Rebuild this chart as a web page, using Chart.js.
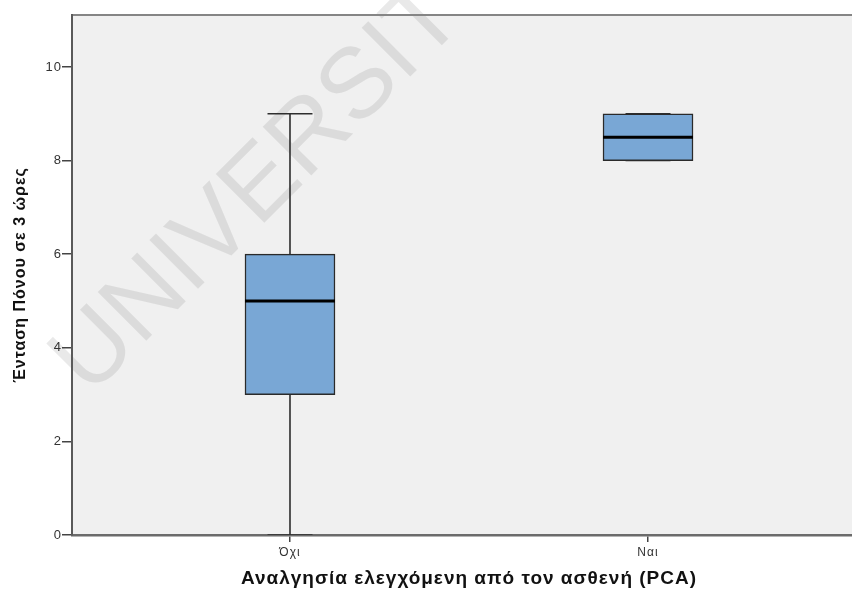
<!DOCTYPE html>
<html>
<head>
<meta charset="utf-8">
<script src="https://cdn.jsdelivr.net/npm/chart.js@4.4.1/dist/chart.umd.min.js"></script>
<style>
  html, body { margin: 0; padding: 0; background: #ffffff; overflow: hidden; }
  #wrap { width: 852px; height: 590px; position: relative; overflow: hidden; }
  #c { position: absolute; left: 0; top: 0; }
</style>
</head>
<body>
<div id="wrap"><canvas id="c" width="866" height="590"></canvas></div>
<script>
// ---- data ----
const categories = ['Όχι', 'Ναι'];
const categoryPos = [1, 2];
const minValues = [0, 8];
const q1Values = [3, 8];
const medianValues = [5, 8.5];
const q3Values = [6, 9];
const maxValues = [9, 9];
const yTicks = [0, 2, 4, 6, 8, 10];
const yTitle = 'Ένταση Πόνου σε 3 ώρες';
const xTitle = 'Αναλγησία ελεγχόμενη από τον ασθενή (PCA)';
const watermarkText = 'UNIVERSITY';

// ---- styling constants ----
const boxHalf = 0.1257;   // half box width in x units
const capHalf = 0.0628;   // half whisker cap width in x units
const FONT = "Arial, 'Liberation Sans', sans-serif";

const boxData = categoryPos.map((x, i) => ({ x: x, y: [q1Values[i], q3Values[i]] }));
const medianData = [];
const whiskerData = [];
categoryPos.forEach((x, i) => {
  medianData.push({ x: x - boxHalf, y: medianValues[i] }, { x: x + boxHalf, y: medianValues[i] }, { x: x, y: null });
  whiskerData.push(
    { x: x, y: q3Values[i] }, { x: x, y: maxValues[i] }, { x: x, y: null },
    { x: x - capHalf, y: maxValues[i] }, { x: x + capHalf, y: maxValues[i] }, { x: x, y: null },
    { x: x, y: q1Values[i] }, { x: x, y: minValues[i] }, { x: x, y: null },
    { x: x - capHalf, y: minValues[i] }, { x: x + capHalf, y: minValues[i] }, { x: x, y: null }
  );
});

const framePlugin = {
  id: 'frame',
  beforeDraw(chart) {
    const { ctx, chartArea: a } = chart;
    ctx.save();
    ctx.fillStyle = '#f0f0f0';
    ctx.fillRect(a.left, a.top, a.right - a.left, a.bottom - a.top);
    // watermark
    ctx.translate(64, 372);
    ctx.rotate(-45 * Math.PI / 180);
    ctx.font = "100px 'Liberation Sans', Arial, sans-serif";
    ctx.fillStyle = 'rgba(0,0,0,0.085)';
    ctx.textBaseline = 'alphabetic';
    ctx.textAlign = 'left';
    ctx.fillText(watermarkText, 0, 36);
    ctx.restore();
    // top frame line
    ctx.save();
    ctx.strokeStyle = '#858585';
    ctx.lineWidth = 2;
    ctx.beginPath();
    ctx.moveTo(a.left, a.top);
    ctx.lineTo(a.right, a.top);
    ctx.stroke();
    ctx.restore();
    // slightly widened lettering for all axis text (the reference text looks stretched)
    ctx.letterSpacing = '1px';
  }
};

new Chart(document.getElementById('c'), {
  type: 'bar',
  data: {
    datasets: [
      {
        type: 'line',
        label: 'median',
        data: medianData,
        borderColor: '#000000',
        borderWidth: 3,
        pointRadius: 0,
        spanGaps: false,
        order: 0
      },
      {
        type: 'bar',
        label: 'box',
        data: boxData,
        backgroundColor: '#79a7d5',
        borderColor: '#2a2a2a',
        borderWidth: 1.5,
        borderSkipped: false,
        barThickness: 90,
        order: 1
      },
      {
        type: 'line',
        label: 'whisker',
        data: whiskerData,
        borderColor: '#2e2e2e',
        borderWidth: 1.6,
        pointRadius: 0,
        spanGaps: false,
        order: 2
      }
    ]
  },
  options: {
    responsive: false,
    animation: false,
    events: [],
    layout: { padding: { top: 15, right: 0, left: 0, bottom: 0 } },
    plugins: { legend: { display: false }, tooltip: { enabled: false } },
    scales: {
      x: {
        type: 'linear',
        min: 0.3911,
        max: 2.6089,
        offset: false,
        afterBuildTicks(scale) { scale.ticks = categoryPos.map(v => ({ value: v })); },
        afterFit(scale) { scale.height = 55; },
        ticks: {
          autoSkip: false,
          maxRotation: 0,
          padding: 3,
          color: '#333333',
          font: { family: FONT, size: 12 },
          callback(v) { const i = categoryPos.indexOf(v); return i >= 0 ? categories[i] : ''; }
        },
        grid: { display: true, offset: false, drawOnChartArea: false, drawTicks: true, tickLength: 7, color: '#444444', lineWidth: 1.5 },
        border: { display: true, color: '#6b6b6b', width: 2.5 },
        title: {
          display: true,
          text: xTitle,
          color: '#111111',
          font: { family: FONT, size: 19, weight: 'bold' },
          padding: { top: 0, bottom: 0 }
        }
      },
      y: {
        type: 'linear',
        min: 0,
        max: 11.11,
        afterBuildTicks(scale) { scale.ticks = yTicks.map(v => ({ value: v })); },
        afterFit(scale) { scale.width = 72; },
        ticks: {
          padding: 0,
          color: '#333333',
          font: { family: FONT, size: 13 }
        },
        grid: { display: true, drawOnChartArea: false, drawTicks: true, tickLength: 10, color: '#444444', lineWidth: 1.5 },
        border: { display: true, color: '#5a5a5a', width: 2 },
        title: {
          display: true,
          text: yTitle,
          color: '#111111',
          font: { family: FONT, size: 16, weight: 'bold' },
          padding: { top: 11, bottom: 0 }
        }
      }
    }
  },
  plugins: [framePlugin]
});
</script>
</body>
</html>
